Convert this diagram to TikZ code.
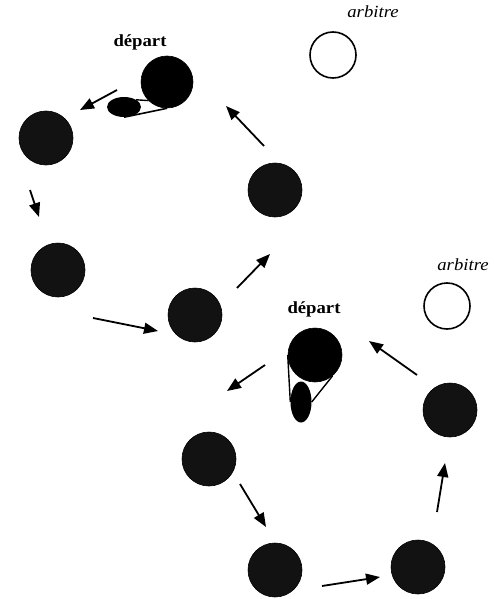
\documentclass[tikz,border=0pt]{standalone}
\usepackage{fontspec}
\setmainfont{Liberation Serif}
\usetikzlibrary{arrows.meta,shapes.geometric}
\begin{document}
\begin{tikzpicture}[x=1pt,y=-1pt,
  ball/.style={circle,fill=black!93,draw=black,line width=0.6pt,minimum size=54pt,inner sep=0pt},
  referee/.style={circle,fill=white,draw=black,line width=1.6pt,minimum size=46pt,inner sep=0pt},
  lbl/.style={font=\fontsize{17}{17}\selectfont\bfseries,xscale=1.1,inner sep=0pt},
  arblbl/.style={font=\fontsize{17}{17}\selectfont\itshape,xscale=1.1,inner sep=0pt},
  mv/.style={-{Triangle[length=14pt,width=11pt]},line width=1.8pt,shorten >=0pt}
]
\useasboundingbox (0,0) rectangle (493,599);
% ---- top loop ----
\node[lbl] (d1) at (140,42) {départ};
\node[ball,minimum size=52pt,fill=black] (a0) at (167,82) {};
\node[ellipse,fill=black,inner sep=0pt,minimum width=34pt,minimum height=20pt] (e1) at (124,107) {};
\draw[line width=1.4pt] (e1.north east) -- (a0.south west);
\draw[line width=1.6pt] (e1.south) -- (a0.south);
\node[ball] (a1) at (46,138) {};
\node[ball] (a2) at (58,270) {};
\node[ball] (a3) at (195,315) {};
\node[ball] (a4) at (275,190) {};
\node[referee] (r1) at (333,55) {};
\node[arblbl] (t1) at (373,12) {arbitre};
\coordinate (p1s) at (117,90); \coordinate (p1e) at (80,110);
\draw[mv] (p1s) -- (p1e);
\coordinate (p2s) at (30,190); \coordinate (p2e) at (39,217);
\draw[mv] (p2s) -- (p2e);
\coordinate (p3s) at (93,318); \coordinate (p3e) at (158,331);
\draw[mv] (p3s) -- (p3e);
\coordinate (p4s) at (237,288); \coordinate (p4e) at (270,254);
\draw[mv] (p4s) -- (p4e);
\coordinate (p5s) at (264,146); \coordinate (p5e) at (226,106);
\draw[mv] (p5s) -- (p5e);
% ---- bottom loop ----
\node[lbl] (d2) at (314,309) {départ};
\node[ball,fill=black] (b0) at (315,355) {};
\node[ellipse,fill=black,inner sep=0pt,minimum width=21pt,minimum height=41pt] (e2) at (301,402) {};
\draw[line width=1.4pt] (b0.west) -- (e2.west);
\draw[line width=1.4pt] (b0.-50) -- (e2.east);
\node[ball] (b1) at (209,459) {};
\node[ball] (b2) at (275,570) {};
\node[ball] (b3) at (418,567) {};
\node[ball] (b4) at (450,410) {};
\node[referee] (r2) at (447,306) {};
\node[arblbl] (t2) at (463,265) {arbitre};
\coordinate (q1s) at (265,365); \coordinate (q1e) at (227,391);
\draw[mv] (q1s) -- (q1e);
\coordinate (q2s) at (240,484); \coordinate (q2e) at (266,527);
\draw[mv] (q2s) -- (q2e);
\coordinate (q3s) at (322,586); \coordinate (q3e) at (380,577);
\draw[mv] (q3s) -- (q3e);
\coordinate (q4s) at (437,512); \coordinate (q4e) at (445,463);
\draw[mv] (q4s) -- (q4e);
\coordinate (q5s) at (417,375); \coordinate (q5e) at (369,341);
\draw[mv] (q5s) -- (q5e);
\end{tikzpicture}
\end{document}
